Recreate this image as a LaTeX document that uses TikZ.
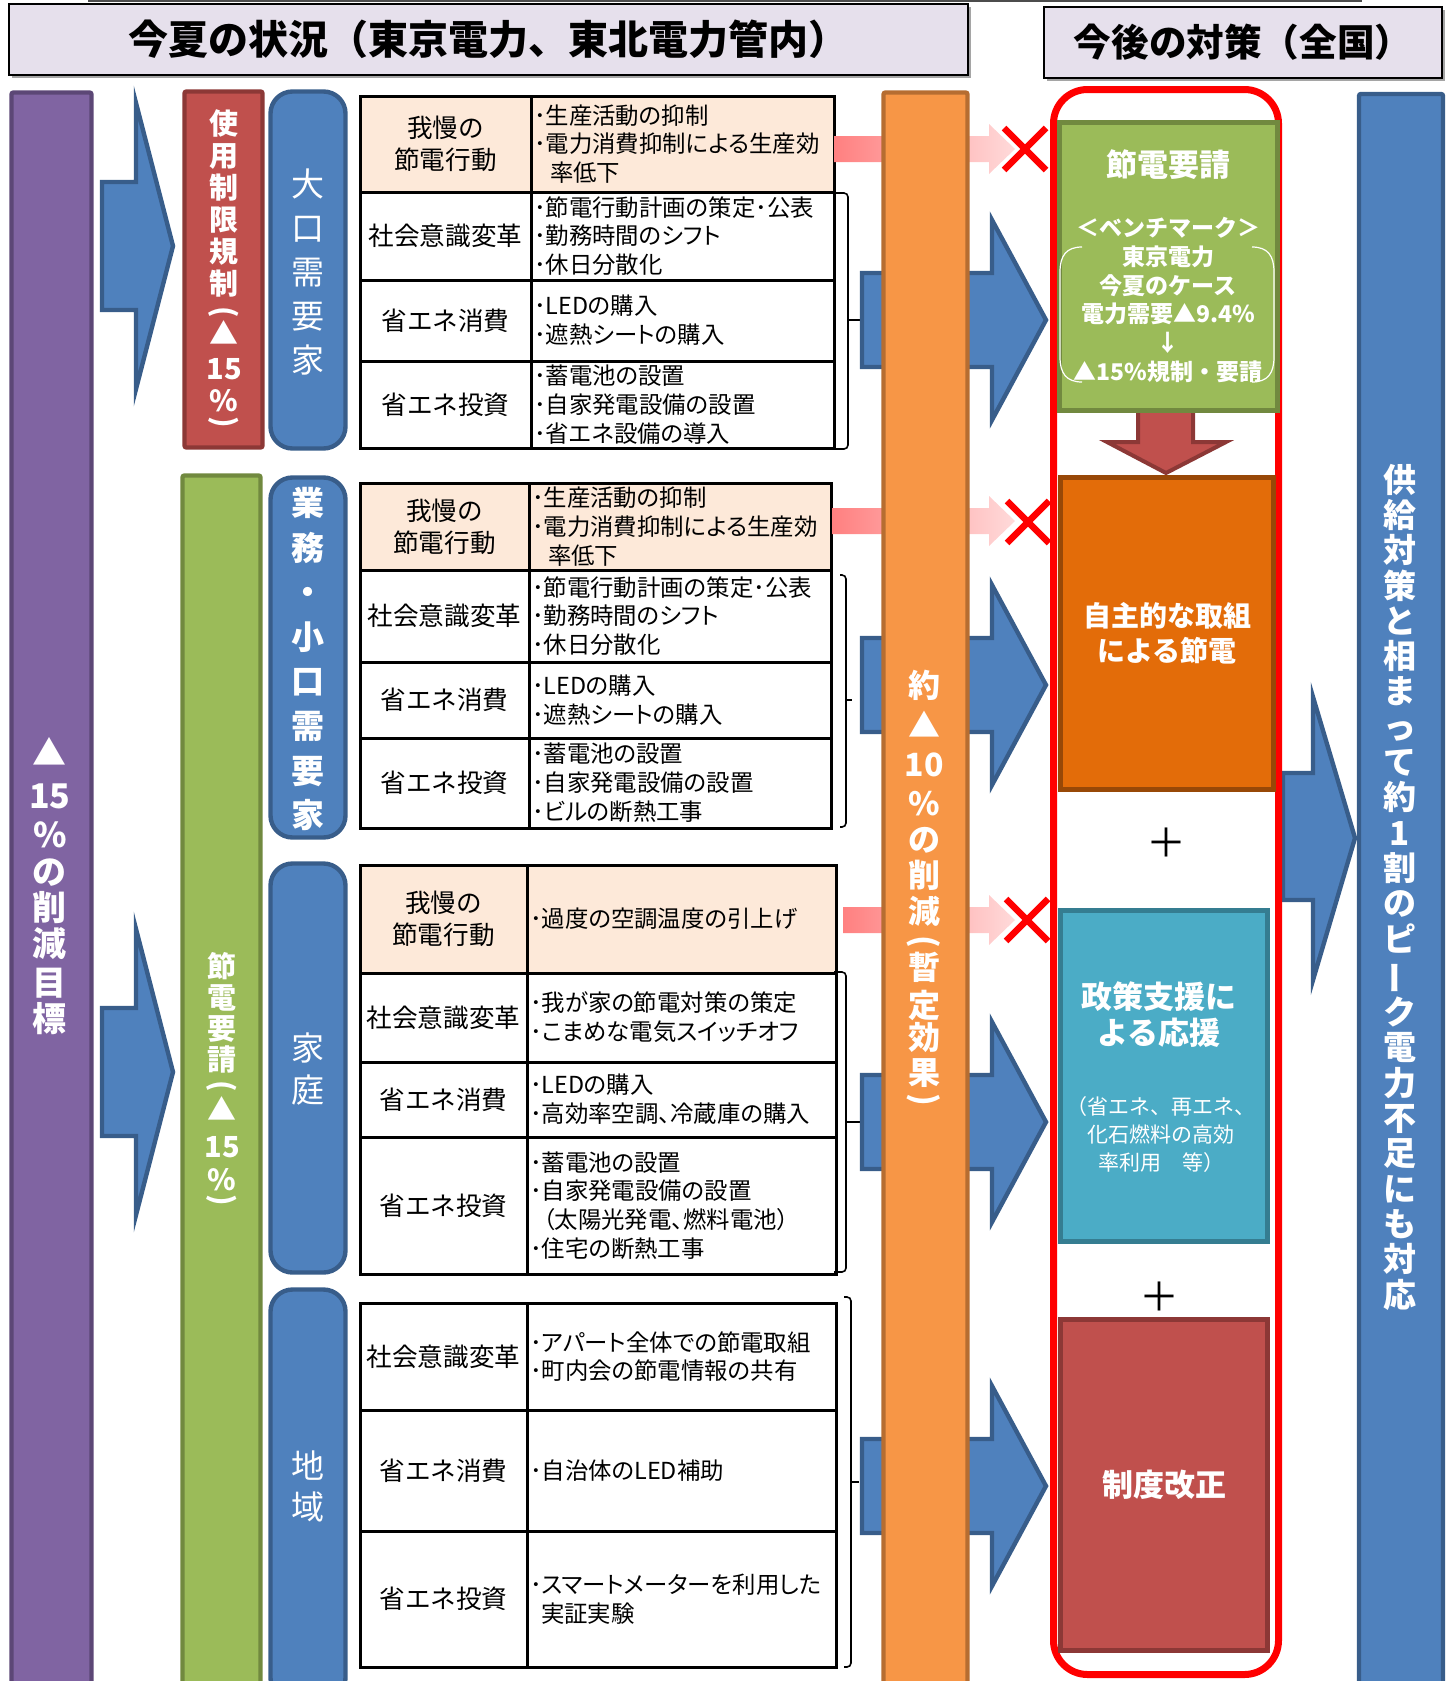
\documentclass[tikz,border=0pt]{standalone}
\usepackage{fontspec}
\setmainfont{Noto Sans CJK JP}
\usetikzlibrary{shadows}

\definecolor{lavender}{HTML}{E6E0EC}
\definecolor{purplebar}{HTML}{8064A2}
\definecolor{purpleline}{HTML}{5C4776}
\definecolor{redbar}{HTML}{C0504D}
\definecolor{redline}{HTML}{8C3836}
\definecolor{greenbar}{HTML}{9BBB59}
\definecolor{greenline}{HTML}{71893F}
\definecolor{bluebar}{HTML}{4F81BD}
\definecolor{blueline}{HTML}{385D8A}
\definecolor{orangebar}{HTML}{F79646}
\definecolor{orangeline}{HTML}{B66D31}
\definecolor{peach}{HTML}{FDE9D9}
\definecolor{ownbox}{HTML}{E36C09}
\definecolor{ownline}{HTML}{984807}
\definecolor{tealbox}{HTML}{4BACC6}
\definecolor{tealline}{HTML}{357D91}
\definecolor{pinkdark}{HTML}{FF8080}
\definecolor{pinklight}{HTML}{FFDADA}

\newcommand{\tatekakko}[1]{\rotatebox[origin=c]{-90}{#1}}
\newcommand{\tatebou}{\rotatebox[origin=c]{90}{ー}}

\begin{document}
\begin{tikzpicture}[x=0.5pt, y=-0.5pt,
  titlebox/.style={draw, line width=1pt, fill=lavender, inner sep=0pt, font=\bfseries\fontsize{20}{24}\selectfont,
    drop shadow={shadow xshift=1.5pt, shadow yshift=-1.5pt, fill=black!70}},
  bar/.style={draw, line width=2.2pt, inner sep=0pt, rounded corners=1pt},
  userbox/.style={draw=blueline, fill=bluebar, line width=2.2pt, rounded corners=11pt, inner sep=0pt, minimum width=37.5pt},
  vtext/.style={text=white, align=center, inner sep=0pt},
  lcell/.style={draw, line width=1.5pt, inner sep=0pt, align=center, font=\fontsize{12.8}{16}\selectfont},
  rcell/.style={draw, line width=1.5pt, inner xsep=1.5pt, inner ysep=0pt, align=left,
    font=\fontsize{11.7}{14.4}\selectfont\addfontfeatures{RawFeature=+palt}},
  gaman/.style={fill=peach},
  bluearrow/.style={draw=blueline, fill=bluebar, line width=2.2pt},
  pinkarrow/.style={left color=pinkdark, right color=pinklight},
  batsu/.style={draw=red, line width=3.2pt},
  kakko/.style={draw, line width=0.8pt, rounded corners=2pt},
  measure/.style={draw, line width=2.2pt, inner sep=0pt, text=white, align=center}
  ]

  \useasboundingbox (0,0) rectangle (1453,1681);
  \clip (0,0) rectangle (1453,1681);

  % Titles
  \draw[gray!60!black, line width=1pt] (88,1) -- (1362,1);
  \node[titlebox, minimum width=479.5pt, minimum height=35.5pt] (natsu) at (488.5,39.5) {今夏の状況（東京電力、東北電力管内）};
  \node[titlebox, minimum width=199pt, minimum height=35.5pt, font=\bfseries\fontsize{18.8}{22}\selectfont] (kongo) at (1243,42.5) {今後の対策（全国）};

  % Target
  \node[bar, draw=purpleline, fill=purplebar, minimum width=40pt, minimum height=803.75pt] (mokuhyo) at (51.5,896.25) {};
  \node[vtext, font=\bfseries\fontsize{17}{18}\selectfont] (mokuhyotxt) at (50,886)
    {▲\\[3.5pt]15\\[1.5pt]\%\\[0.5pt]の\\削\\減\\[1.5pt]目\\標};

  \foreach \yc in {246, 1072}
    \draw[bluearrow] (102,\yc-64) -- (136,\yc-64) -- (136,\yc-143) -- (173,\yc)
      -- (136,\yc+143) -- (136,\yc+64) -- (102,\yc+64) -- cycle;

  % Regulation and request
  \node[bar, draw=redline, fill=redbar, minimum width=39pt, minimum height=178pt] (seigen) at (223.5,269.5) {};
  \node[vtext, font=\bfseries\fontsize{14.5}{16}\selectfont] (seigentxt) at (224,271)
    {使\\用\\制\\限\\規\\制\\[-2.5pt]\tatekakko{(}\\[-4.5pt]▲\\[1.5pt]15\\\%\\[-6pt]\tatekakko{)}};
  \node[bar, draw=greenline, fill=greenbar, minimum width=39pt, minimum height=612.25pt] (yousei) at (221.5,1087.75) {};
  \node[vtext, font=\bfseries\fontsize{14.5}{15.5}\selectfont] (youseitxt) at (222,1081)
    {節\\電\\要\\請\\[-3pt]\tatekakko{(}\\[-3pt]▲\\[3pt]15\\[1pt]\%\\[-6pt]\tatekakko{)}};

  % Users
  \node[userbox, minimum height=178.5pt] (oguchi) at (308,270) {};
  \node[vtext, font=\fontsize{16.5}{22}\selectfont] (oguchitxt) at (308,272.5) {大\\口\\需\\要\\家};
  \node[userbox, minimum height=180pt] (gyomu) at (308,657.5) {};
  \node[vtext, font=\bfseries\fontsize{16.5}{22.3}\selectfont] (gyomutxt) at (308,659) {業\\務\\・\\小\\口\\需\\要\\家};
  \node[userbox, minimum height=204.5pt] (katei) at (308,1068) {};
  \node[vtext, font=\fontsize{16.5}{21}\selectfont] (kateitxt) at (308,1069) {家\\庭};
  \node[userbox, minimum height=205.25pt] (chiiki) at (308,1494.75) {};
  \node[vtext, font=\fontsize{16.5}{20.5}\selectfont] (chiikitxt) at (308,1486) {地\\域};

  % Table: large users
  \node[lcell, gaman, minimum width=85.5pt, minimum height=48pt] (oA) at (445.5,144) {我慢の\\節電行動};
  \node[rcell, gaman, text width=148.5pt, minimum height=48pt] (oAr) at (682.5,144) {･生産活動の抑制\\･電力消費抑制による生産効\\\hspace*{8pt}率低下};
  \node[lcell, minimum width=85.5pt, minimum height=44pt] (oB) at (445.5,236) {社会意識変革};
  \node[rcell, text width=148.5pt, minimum height=44pt] (oBr) at (682.5,236) {･節電行動計画の策定･公表\\･勤務時間のシフト\\･休日分散化};
  \node[lcell, minimum width=85.5pt, minimum height=40.5pt] (oC) at (445.5,320.5) {省エネ消費};
  \node[rcell, text width=148.5pt, minimum height=40.5pt] (oCr) at (682.5,320.5) {･LEDの購入\\･遮熱シートの購入};
  \node[lcell, minimum width=85.5pt, minimum height=43.5pt] (oD) at (445.5,404.5) {省エネ投資};
  \node[rcell, text width=148.5pt, minimum height=43.5pt] (oDr) at (682.5,404.5) {･蓄電池の設置\\･自家発電設備の設置\\･省エネ設備の導入};

  % Table: business and small users
  \node[lcell, gaman, minimum width=84.5pt, minimum height=43.5pt] (gA) at (444.5,526.5) {我慢の\\節電行動};
  \node[rcell, gaman, text width=148pt, minimum height=43.5pt] (gAr) at (680,526.5) {･生産活動の抑制\\･電力消費抑制による生産効\\\hspace*{8pt}率低下};
  \node[lcell, minimum width=84.5pt, minimum height=46pt] (gB) at (444.5,616) {社会意識変革};
  \node[rcell, text width=148pt, minimum height=46pt] (gBr) at (680,616) {･節電行動計画の策定･公表\\･勤務時間のシフト\\･休日分散化};
  \node[lcell, minimum width=84.5pt, minimum height=38pt] (gC) at (444.5,700) {省エネ消費};
  \node[rcell, text width=148pt, minimum height=38pt] (gCr) at (680,700) {･LEDの購入\\･遮熱シートの購入};
  \node[lcell, minimum width=84.5pt, minimum height=45pt] (gD) at (444.5,783) {省エネ投資};
  \node[rcell, text width=148pt, minimum height=45pt] (gDr) at (680,783) {･蓄電池の設置\\･自家発電設備の設置\\･ビルの断熱工事};

  % Table: households
  \node[lcell, gaman, minimum width=83.5pt, minimum height=54pt] (kA) at (443.5,919) {我慢の\\節電行動};
  \node[rcell, gaman, text width=151.5pt, minimum height=54pt] (kAr) at (681.5,919) {･過度の空調温度の引上げ};
  \node[lcell, minimum width=83.5pt, minimum height=44.5pt] (kB) at (443.5,1017.5) {社会意識変革};
  \node[rcell, text width=151.5pt, minimum height=44.5pt] (kBr) at (681.5,1017.5) {･我が家の節電対策の策定\\･こまめな電気スイッチオフ};
  \node[lcell, minimum width=83.5pt, minimum height=37.5pt] (kC) at (443.5,1099.5) {省エネ消費};
  \node[rcell, text width=151.5pt, minimum height=37.5pt] (kCr) at (681.5,1099.5) {･LEDの購入\\･高効率空調、冷蔵庫の購入};
  \node[lcell, minimum width=83.5pt, minimum height=68.5pt] (kD) at (443.5,1205.5) {省エネ投資};
  \node[rcell, text width=151.5pt, minimum height=68.5pt] (kDr) at (681.5,1205.5) {･蓄電池の設置\\･自家発電設備の設置\\\hspace*{6.5pt}（太陽光発電、燃料電池）\\･住宅の断熱工事};

  % Table: communities
  \node[lcell, minimum width=83.5pt, minimum height=53.5pt] (cB) at (443.5,1356.5) {社会意識変革};
  \node[rcell, text width=151.5pt, minimum height=53.5pt] (cBr) at (681.5,1356.5) {･アパート全体での節電取組\\･町内会の節電情報の共有};
  \node[lcell, minimum width=83.5pt, minimum height=60.5pt] (cC) at (443.5,1470.5) {省エネ消費};
  \node[rcell, text width=151.5pt, minimum height=60.5pt] (cCr) at (681.5,1470.5) {･自治体のLED補助};
  \node[lcell, minimum width=83.5pt, minimum height=68pt] (cD) at (443.5,1599) {省エネ投資};
  \node[rcell, text width=151.5pt, minimum height=68pt] (cDr) at (681.5,1599) {･スマートメーターを利用した\\\hspace*{5.5pt}実証実験};

  % Brackets
  \foreach \xa/\xv/\xt/\ya/\ym/\yb in {836/848/861/193/320/449, 840/846/852/575/700/827,
      834/846/860/972/1122/1272, 844/851/859/1297/1482/1667} {
    \draw[kakko] (\xa,\ya) -- (\xv,\ya) -- (\xv,\yb) -- (\xa,\yb);
    \draw[kakko] (\xv,\ym) -- (\xt,\ym);
  }

  % Arrows through the bar
  \foreach \xs/\yc in {834/149, 832/521, 843/920}
    \shade[pinkarrow] (\xs,\yc-13) -- (989,\yc-13) -- (989,\yc-25) -- (1015,\yc)
      -- (989,\yc+25) -- (989,\yc+13) -- (\xs,\yc+13) -- cycle;
  \foreach \yc in {320, 685, 1122, 1486}
    \draw[bluearrow] (862,\yc-47) -- (992,\yc-47) -- (992,\yc-100) -- (1046,\yc)
      -- (992,\yc+100) -- (992,\yc+47) -- (862,\yc+47) -- cycle;

  \node[bar, draw=orangeline, fill=orangebar, minimum width=42pt, minimum height=803.75pt] (zantei) at (925.5,896.25) {};
  \node[vtext, font=\bfseries\fontsize{16}{18}\selectfont] (zanteitxt) at (924,890)
    {約\\[2pt]▲\\[1.5pt]10\\[1.5pt]\%\\の\\削\\減\\[-3.5pt]\tatekakko{(}\\[-4.5pt]暫\\[1pt]定\\[-2pt]効\\[-0.5pt]果\\[-5pt]\tatekakko{)}};

  \foreach \xc/\yc in {1025/149, 1028/522, 1027/920}
    \draw[batsu] (\xc-21,\yc-21) -- (\xc+21,\yc+21) (\xc-21,\yc+21) -- (\xc+21,\yc-21);

  % Supply side
  \draw[bluearrow] (1283,773) -- (1313,773) -- (1313,697) -- (1355,838) -- (1313,980)
    -- (1313,900) -- (1283,900) -- cycle;
  \node[bar, draw=blueline, fill=bluebar, minimum width=42pt, minimum height=798pt] (kyokyu) at (1401,892) {};
  \node[vtext, font=\bfseries\fontsize{16.5}{17.65}\selectfont] (kyokyutxt) at (1400,887)
    {供\\給\\対\\策\\と\\相\\ま\\っ\\て\\約\\1\\割\\の\\ピ\\\tatebou\\ク\\電\\力\\不\\足\\に\\も\\対\\応};

  % Measures
  \node[draw=red, line width=3.5pt, rounded corners=17pt, minimum width=112.5pt, minimum height=792.5pt, inner sep=0pt] (taisaku) at (1166,882) {};
  \draw[draw=redline, fill=redbar, line width=2pt] (1138,405) -- (1193,405) -- (1193,442) -- (1226,442)
    -- (1166,473) -- (1107,442) -- (1138,442) -- cycle;
  \node[measure, draw=greenline, fill=greenbar, minimum width=109pt, minimum height=144pt] (setsuden) at (1168.5,266.5) {};
  \node[text=white, font=\bfseries\fontsize{15.5}{18}\selectfont, inner sep=0pt] (setsudenttl) at (1168,165) {節電要請};
  \node[text=white, align=center, font=\bfseries\fontsize{11.5}{14.4}\selectfont, inner sep=0pt] (bench) at (1168,300)
    {＜ベンチマーク＞\\東京電力\\今夏のケース\\電力需要▲9.4\%\\↓\\▲15\%規制・要請};
  \draw[white, line width=0.6pt] (1082,247) .. controls (1066,247) and (1060,256) .. (1060,272) -- (1060,357)
    .. controls (1060,373) and (1066,382) .. (1082,382);
  \draw[white, line width=0.6pt] (1252,247) .. controls (1268,247) and (1274,256) .. (1274,272) -- (1274,357)
    .. controls (1274,373) and (1268,382) .. (1252,382);

  \node[measure, draw=ownline, fill=ownbox, minimum width=106.5pt, minimum height=156pt,
    font=\bfseries\fontsize{14}{17.5}\selectfont] (jishu) at (1167,633.5) {自主的な取組\\による節電};
  \node[font=\fontsize{20}{20}\selectfont, inner sep=0pt] (plusA) at (1166,843) {＋};
  \node[measure, draw=tealline, fill=tealbox, minimum width=103.5pt, minimum height=165.5pt] (seisaku) at (1164,1076) {};
  \node[text=white, align=center, font=\bfseries\fontsize{15.5}{18}\selectfont, inner sep=0pt] (seisakuttl) at (1159,1015) {政策支援に\\よる応援};
  \node[text=white, align=center, font=\fontsize{10.5}{14}\selectfont, inner sep=0pt] (seisakunote) at (1161,1135)
    {（省エネ、再エネ、\\化石燃料の高効\\率利用　等）};
  \node[font=\fontsize{20}{20}\selectfont, inner sep=0pt] (plusB) at (1159,1297) {＋};
  \node[measure, draw=redline, fill=redbar, minimum width=103.5pt, minimum height=165.5pt,
    font=\bfseries\fontsize{15.5}{18}\selectfont] (seido) at (1164,1485) {制度改正};

\end{tikzpicture}
\end{document}
